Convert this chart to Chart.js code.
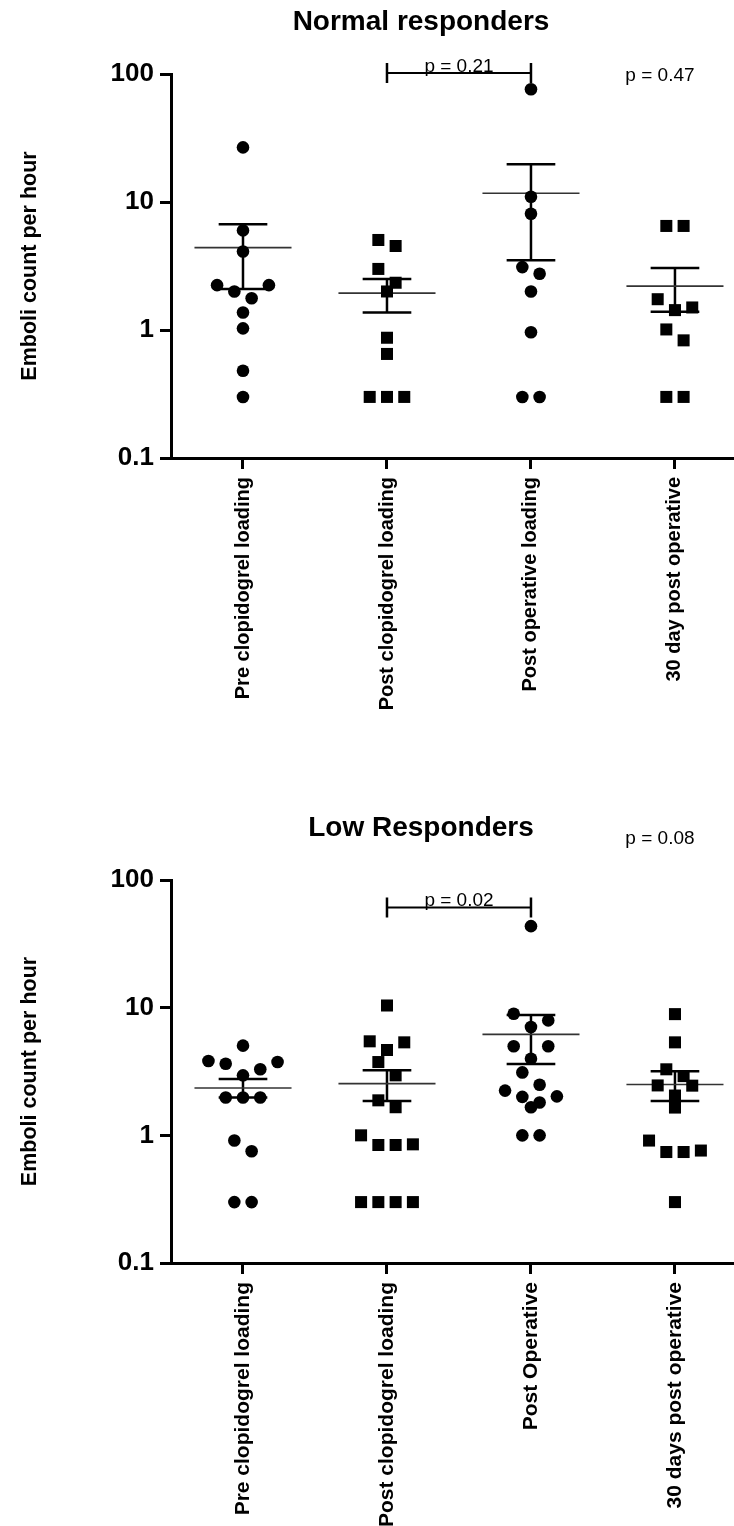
<!DOCTYPE html>
<html lang="en">
  <head>
    <meta charset="UTF-8" />
    <title>Emboli count per hour</title>
    <script src="https://cdn.jsdelivr.net/npm/chart.js"></script>
    <style>
      body { margin: 0; background: #fff; }
      #wrap { position: relative; width: 734px; height: 1526px; }
      canvas { position: absolute; left: 0; display: block; }
    </style>
  </head>
  <body>
    <div id="wrap">
      <canvas id="normalChart" width="734" height="763" style="top: 0"></canvas>
      <canvas id="lowChart" width="734" height="763" style="top: 763px"></canvas>
    </div>

    <script>
      // values (emboli per hour, log axis)
      const yTicks = [0.1, 1, 10, 100];

      const normalLabels = ["Pre clopidogrel loading", "Post clopidogrel loading", "Post operative loading", "30 day post operative"];
      const normalPre = [26.7, 6.0, 4.1, 2.24, 2.24, 2.0, 1.77, 1.37, 1.03, 0.48, 0.3];
      const normalPostClop = [5.05, 4.53, 3.0, 2.34, 2.0, 0.87, 0.65, 0.3, 0.3, 0.3];
      const normalPostOp = [76, 11, 8.1, 3.1, 2.75, 2.0, 0.96, 0.3, 0.3];
      const normal30 = [6.5, 6.5, 1.74, 1.5, 1.43, 1.01, 0.83, 0.3, 0.3];
      const normalMean = [4.4, 1.94, 11.7, 2.2];
      const normalSemHigh = [6.7, 2.5, 19.7, 3.05];
      const normalSemLow = [2.09, 1.37, 3.5, 1.39];

      const lowLabels = ["Pre clopidogrel loading", "Post clopidogrel loading", "Post Operative", "30 days post operative"];
      const lowPre = [5.04, 3.82, 3.75, 3.64, 3.29, 2.95, 1.98, 1.98, 1.98, 0.91, 0.75, 0.3, 0.3];
      const lowPostClop = [10.4, 5.45, 5.35, 4.66, 3.75, 2.95, 1.88, 1.66, 1.0, 0.85, 0.84, 0.84, 0.3, 0.3, 0.3, 0.3];
      const lowPostOp = [43.5, 8.97, 7.95, 7.05, 4.98, 4.98, 3.98, 3.11, 2.49, 2.24, 2.02, 2.0, 1.81, 1.66, 1.0, 1.0];
      const low30 = [8.9, 5.35, 3.29, 2.91, 2.45, 2.46, 2.05, 1.65, 0.91, 0.76, 0.74, 0.74, 0.3];
      const lowMean = [2.35, 2.54, 6.18, 2.5];
      const lowSemHigh = [2.76, 3.23, 8.75, 3.17];
      const lowSemLow = [1.98, 1.86, 3.62, 1.86];

      const FONT = "'Liberation Sans', Arial, sans-serif";
      Chart.defaults.font.family = FONT;
      Chart.defaults.color = "#000";

      // column scatter: points of similar height share a row, spread outer-first
      function swarm(values, center) {
        const rowHeight = 0.118; // decades, about one marker
        const step = 0.12;
        const order = values.map((v, i) => i).sort((a, b) => values[b] - values[a]);
        const out = [];
        let i = 0;
        while (i < order.length) {
          const top = Math.log10(values[order[i]]);
          let j = i;
          while (j < order.length && top - Math.log10(values[order[j]]) < rowHeight) j++;
          const n = j - i;
          const slots = [];
          for (let k = 0; k < n; k++) slots.push(k - (n - 1) / 2);
          slots.sort((a, b) => Math.abs(b) - Math.abs(a) || a - b);
          for (let k = 0; k < n; k++) {
            out.push({ x: center + slots[k] * step, y: values[order[i + k]] });
          }
          i = j;
        }
        return out;
      }

      function overlay(panel) {
        return {
          id: "overlay",
          beforeDatasetsDraw(chart) {
            const ctx = chart.ctx;
            const xs = chart.scales.x;
            const ys = chart.scales.y;
            ctx.save();
            panel.mean.forEach((m, i) => {
              const cx = xs.getPixelForValue(i + 1);
              const half = xs.getPixelForValue(i + 1 + 0.337) - cx;
              const cap = xs.getPixelForValue(i + 1 + 0.169) - cx;
              const yHi = ys.getPixelForValue(panel.semHigh[i]);
              const yLo = ys.getPixelForValue(panel.semLow[i]);
              const yM = ys.getPixelForValue(m);
              ctx.strokeStyle = "#000";
              ctx.lineWidth = 2.5;
              ctx.beginPath();
              ctx.moveTo(cx, yHi);
              ctx.lineTo(cx, yLo);
              ctx.moveTo(cx - cap, yHi);
              ctx.lineTo(cx + cap, yHi);
              ctx.moveTo(cx - cap, yLo);
              ctx.lineTo(cx + cap, yLo);
              ctx.stroke();
              ctx.strokeStyle = "#333";
              ctx.lineWidth = 1.6;
              ctx.beginPath();
              ctx.moveTo(cx - half, yM);
              ctx.lineTo(cx + half, yM);
              ctx.stroke();
            });
            ctx.restore();
          },
          afterDraw(chart) {
            const ctx = chart.ctx;
            const xs = chart.scales.x;
            const ys = chart.scales.y;
            const area = chart.chartArea;
            ctx.save();
            ctx.fillStyle = "#000";

            ctx.font = "bold 28px " + FONT;
            ctx.textAlign = "center";
            ctx.textBaseline = "alphabetic";
            ctx.fillText(panel.title, 421, area.top - 44);

            // comparison bracket between the 2nd and 3rd groups
            const x1 = xs.getPixelForValue(2);
            const x2 = xs.getPixelForValue(3);
            const by = ys.getPixelForValue(panel.bracketAt);
            ctx.strokeStyle = "#000";
            ctx.lineWidth = 2;
            ctx.beginPath();
            ctx.moveTo(x1, by);
            ctx.lineTo(x2, by);
            ctx.stroke();
            ctx.lineWidth = 2.5;
            ctx.beginPath();
            ctx.moveTo(x1, by - 10);
            ctx.lineTo(x1, by + 10);
            ctx.moveTo(x2, by - 10);
            ctx.lineTo(x2, by + 10);
            ctx.stroke();
            ctx.font = "19px " + FONT;
            ctx.fillText(panel.bracketText, (x1 + x2) / 2, by - 1);

            ctx.textBaseline = "middle";
            ctx.fillText(panel.overallText, xs.getPixelForValue(4) - 15, area.top + panel.overallDy);
            ctx.restore();
          },
        };
      }

      function makePanel(id, panel) {
        const groups = [panel.pre, panel.postClop, panel.postOp, panel.day30];
        const ctx = document.getElementById(id).getContext("2d");
        return new Chart(ctx, {
          type: "scatter",
          data: {
            datasets: groups.map((vals, i) => ({
              data: swarm(vals, i + 1),
              pointStyle: i % 2 ? "rect" : "circle",
              pointRadius: i % 2 ? 8.5 : 6.3,
              pointHoverRadius: i % 2 ? 8.5 : 6.3,
              backgroundColor: "#000",
              borderColor: "#000",
              borderWidth: 0,
            })),
          },
          options: {
            responsive: false,
            animation: false,
            events: [],
            layout: {
              autoPadding: false,
              padding: { top: panel.padTop, left: 0, right: 0, bottom: 0 },
            },
            plugins: { legend: { display: false }, tooltip: { enabled: false } },
            scales: {
              x: {
                type: "linear",
                min: 0.5,
                max: 4.41,
                afterFit: (s) => {
                  s.height = panel.xHeight;
                  s.paddingLeft = 0;
                  s.paddingRight = 0;
                },
                afterBuildTicks: (s) => { s.ticks = panel.labels.map((_, i) => ({ value: i + 1 })); },
                grid: { display: true, drawOnChartArea: false, drawTicks: true, tickLength: 11, lineWidth: 3, color: "#000" },
                border: { display: true, width: 3, color: "#000" },
                ticks: {
                  autoSkip: false,
                  minRotation: 90,
                  maxRotation: 90,
                  padding: 8,
                  color: "#000",
                  font: { size: panel.labelSize, weight: "bold" },
                  callback: (v) => panel.labels[Math.round(v) - 1],
                },
              },
              y: {
                type: "logarithmic",
                min: 0.1,
                max: 100,
                afterFit: (s) => { s.width = 171; },
                afterBuildTicks: (s) => { s.ticks = yTicks.map((v) => ({ value: v })); },
                grid: { display: true, drawOnChartArea: false, drawTicks: true, tickLength: 11, lineWidth: 3, color: "#000" },
                border: { display: true, width: 3, color: "#000" },
                ticks: {
                  padding: 6,
                  color: "#000",
                  font: { size: 26, weight: "bold" },
                  callback: (v) => String(v),
                },
                title: {
                  display: true,
                  text: "Emboli count per hour",
                  color: "#000",
                  font: { size: 21.5, weight: "bold" },
                  padding: { top: 17, bottom: 0 },
                },
              },
            },
          },
          plugins: [overlay(panel)],
        });
      }

      makePanel("normalChart", {
        title: "Normal responders",
        labels: normalLabels,
        pre: normalPre,
        postClop: normalPostClop,
        postOp: normalPostOp,
        day30: normal30,
        mean: normalMean,
        semHigh: normalSemHigh,
        semLow: normalSemLow,
        bracketAt: 102,
        bracketText: "p = 0.21",
        overallText: "p = 0.47",
        overallDy: 2,
        padTop: 74,
        xHeight: 305,
        labelSize: 20,
      });

      makePanel("lowChart", {
        title: "Low Responders",
        labels: lowLabels,
        pre: lowPre,
        postClop: lowPostClop,
        postOp: lowPostOp,
        day30: low30,
        mean: lowMean,
        semHigh: lowSemHigh,
        semLow: lowSemLow,
        bracketAt: 61,
        bracketText: "p = 0.02",
        overallText: "p = 0.08",
        overallDy: -41,
        padTop: 117,
        xHeight: 263,
        labelSize: 21,
      });
    </script>
  </body>
</html>
